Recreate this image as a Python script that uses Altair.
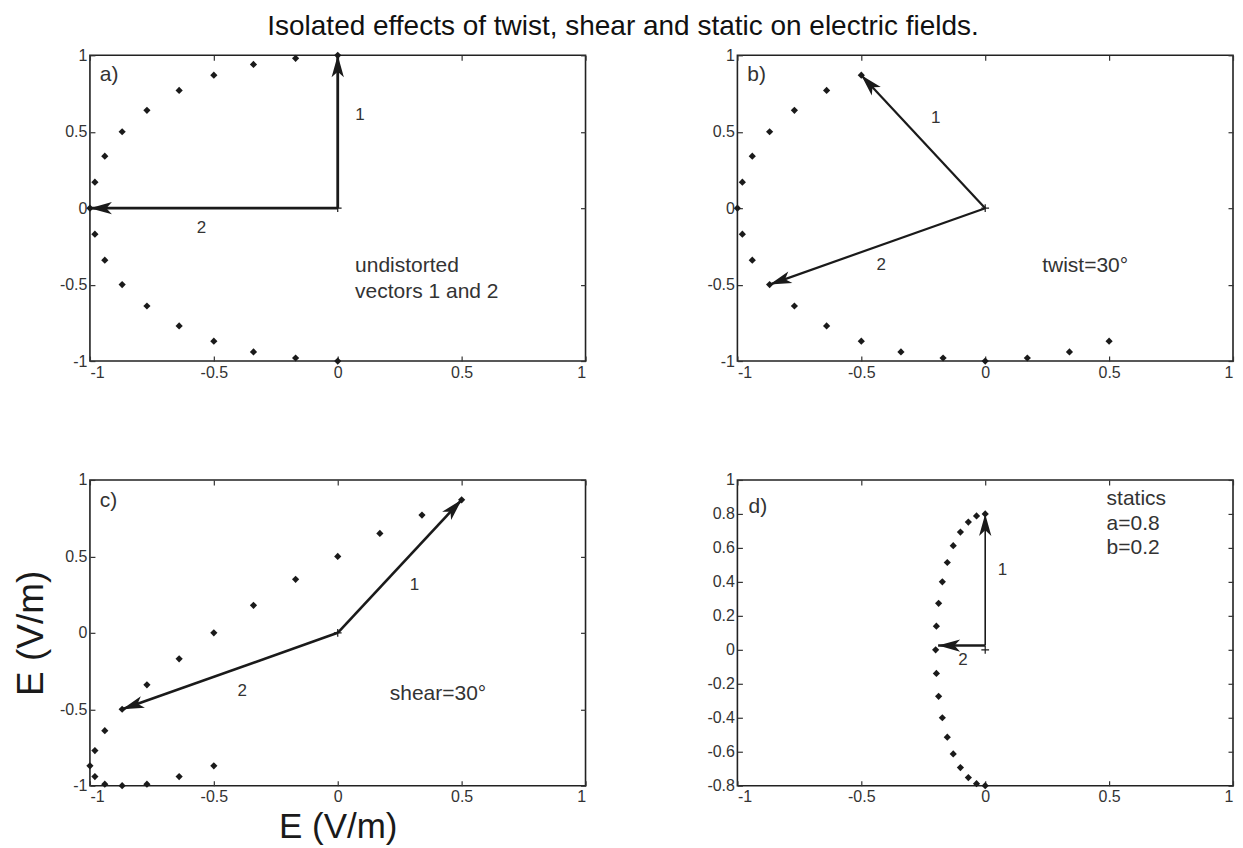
import math
import altair as alt
import pandas as pd

TITLE = "Isolated effects of twist, shear and static on electric fields."
AXIS_TITLE = "E (V/m)"

X_TICKS = [-1, -0.5, 0, 0.5, 1]
Y_TICKS = [-1, -0.5, 0, 0.5, 1]
Y_TICKS_D = [-0.8, -0.6, -0.4, -0.2, 0, 0.2, 0.4, 0.6, 0.8, 1]

# ---- a) undistorted ----
A_PX = [0, -0.17, -0.34, -0.5, -0.64, -0.77, -0.87, -0.94, -0.98, -1.0,
        -0.98, -0.94, -0.87, -0.77, -0.64, -0.5, -0.34, -0.17, 0]
A_PY = [1.0, 0.98, 0.94, 0.87, 0.77, 0.64, 0.5, 0.34, 0.17, 0,
        -0.17, -0.34, -0.5, -0.64, -0.77, -0.87, -0.94, -0.98, -1.0]
A_VX0 = [0, 0]
A_VY0 = [0, 0]
A_VX1 = [0, -1.0]
A_VY1 = [1.0, 0]
A_NUM = ["1", "2"]
A_NUM_X = [0.09, -0.55]
A_NUM_Y = [0.61, -0.13]
A_NOTE = ["a)", "undistorted", "vectors 1 and 2"]
A_NOTE_X = [-0.96, 0.07, 0.07]
A_NOTE_Y = [0.87, -0.38, -0.55]

# ---- b) twist ----
B_PX = [-0.5, -0.64, -0.77, -0.87, -0.94, -0.98, -1.0, -0.98, -0.94, -0.87,
        -0.77, -0.64, -0.5, -0.34, -0.17, 0, 0.17, 0.34, 0.5]
B_PY = [0.87, 0.77, 0.64, 0.5, 0.34, 0.17, 0, -0.17, -0.34, -0.5,
        -0.64, -0.77, -0.87, -0.94, -0.98, -1.0, -0.98, -0.94, -0.87]
B_VX0 = [0, 0]
B_VY0 = [0, 0]
B_VX1 = [-0.5, -0.87]
B_VY1 = [0.87, -0.5]
B_NUM = ["1", "2"]
B_NUM_X = [-0.2, -0.42]
B_NUM_Y = [0.59, -0.37]
B_NOTE = ["b)", "twist=30°"]
B_NOTE_X = [-0.96, 0.23]
B_NOTE_Y = [0.87, -0.38]

# ---- c) shear ----
C_PX = [0.5, 0.34, 0.17, 0, -0.17, -0.34, -0.5, -0.64, -0.77, -0.87,
        -0.94, -0.98, -1.0, -0.98, -0.94, -0.87, -0.77, -0.64, -0.5]
C_PY = [0.87, 0.77, 0.65, 0.5, 0.35, 0.18, 0, -0.17, -0.34, -0.5,
        -0.64, -0.77, -0.87, -0.94, -0.99, -1.0, -0.99, -0.94, -0.87]
C_VX0 = [0, 0]
C_VY0 = [0, 0]
C_VX1 = [0.5, -0.87]
C_VY1 = [0.87, -0.5]
C_NUM = ["1", "2"]
C_NUM_X = [0.31, -0.385]
C_NUM_Y = [0.31, -0.38]
C_NOTE = ["c)", "shear=30°"]
C_NOTE_X = [-0.96, 0.21]
C_NOTE_Y = [0.86, -0.40]

# ---- d) statics ----
D_PX = [0, -0.035, -0.068, -0.1, -0.129, -0.153, -0.173, -0.188, -0.197, -0.2,
        -0.197, -0.188, -0.173, -0.153, -0.129, -0.1, -0.068, -0.035, 0]
D_PY = [0.8, 0.788, 0.752, 0.693, 0.613, 0.514, 0.4, 0.274, 0.139, 0,
        -0.139, -0.274, -0.4, -0.514, -0.613, -0.693, -0.752, -0.788, -0.8]
D_VX0 = [0, 0]
D_VY0 = [0.025, 0.025]
D_VX1 = [0, -0.19]
D_VY1 = [0.8, 0.025]
D_NUM = ["1", "2"]
D_NUM_X = [0.07, -0.09]
D_NUM_Y = [0.47, -0.06]
D_NOTE = ["d)", "statics", "a=0.8", "b=0.2"]
D_NOTE_X = [-0.955, 0.49, 0.49, 0.49]
D_NOTE_Y = [0.84, 0.89, 0.74, 0.60]

# ---- styling (not data) ----
PW, PH = 496, 306
TICK = 5
INK = "#1a1a1a"
TXT = "#333333"
ARROW = "M0,0L0.42,1.5L0,1.12L-0.42,1.5Z"
CROSS = "M-1,0L1,0M0,-1L0,1"
LBL = "toString(datum.value)"
LABEL_FS = 16
VEC_W = {"a": [2.8, 2.8], "b": [2.2, 2.2], "c": [2.6, 2.6], "d": [1.6, 2.6]}


def panel(key, px, py, vx0, vy0, vx1, vy1, num, num_x, num_y, note, note_x, note_y,
          ydom, yticks, titles):
    xs = alt.Scale(domain=[-1, 1], nice=False, zero=False)
    ys = alt.Scale(domain=ydom, nice=False, zero=False)
    ppx = PW / 2.0
    ppy = PH / float(ydom[1] - ydom[0])

    if titles:
        xt = dict(title=AXIS_TITLE, titleFontSize=35, titleFontWeight="normal",
                  titlePadding=5, titleColor=INK, titleFont="Liberation Sans")
        yt = dict(title=AXIS_TITLE, titleFontSize=37, titleFontWeight="normal",
                  titlePadding=9, titleColor=INK, titleFont="Liberation Sans")
    else:
        xt = dict(title=None)
        yt = dict(title=None)

    common = dict(offset=-TICK, tickSize=TICK, domain=False, grid=False,
                  tickColor="#333333", tickWidth=1.2)
    ax_b = alt.Axis(orient="bottom", values=X_TICKS, labelExpr=LBL, labelPadding=3,
                    labelFontSize=LABEL_FS, labelColor=TXT, labelFont="Liberation Sans",
                    **common, **xt)
    ax_l = alt.Axis(orient="left", values=yticks, labelExpr=LBL, labelPadding=3,
                    labelFontSize=LABEL_FS, labelColor=TXT, labelFont="Liberation Sans",
                    **common, **yt)
    ax_t = alt.Axis(orient="top", values=X_TICKS, labels=False, title=None, **common)
    ax_r = alt.Axis(orient="right", values=yticks, labels=False, title=None, **common)

    pts = pd.DataFrame({"x": px, "y": py})
    dots = alt.Chart(pts).mark_point(shape="diamond", filled=True, size=52,
                                     color=INK, opacity=1).encode(
        x=alt.X("x:Q", scale=xs, axis=ax_b),
        y=alt.Y("y:Q", scale=ys, axis=ax_l))
    frame = alt.Chart(pts).mark_point(opacity=0).encode(
        x=alt.X("x:Q", scale=xs, axis=ax_t),
        y=alt.Y("y:Q", scale=ys, axis=ax_r))

    ang = [math.degrees(math.atan2((b - a) * ppx, (d - c) * ppy)) % 360
           for a, b, c, d in zip(vx0, vx1, vy0, vy1)]
    vec = pd.DataFrame({"x0": vx0, "y0": vy0, "x1": vx1, "y1": vy1,
                        "w": VEC_W[key], "ang": ang})
    lines = alt.Chart(vec).mark_rule(color=INK).encode(
        x=alt.X("x0:Q", scale=xs, axis=None),
        y=alt.Y("y0:Q", scale=ys, axis=None),
        x2="x1:Q", y2="y1:Q",
        strokeWidth=alt.StrokeWidth("w:Q", scale=None, legend=None))
    heads = alt.Chart(vec).mark_point(shape=ARROW, filled=True, size=860,
                                      color=INK, opacity=1, strokeWidth=0).encode(
        x=alt.X("x1:Q", scale=xs, axis=None),
        y=alt.Y("y1:Q", scale=ys, axis=None),
        angle=alt.Angle("ang:Q", scale=None))

    org = alt.Chart(pd.DataFrame({"x": [0], "y": [0]})).mark_point(
        shape=CROSS, filled=False, size=60, color=INK, strokeWidth=1.2, opacity=1).encode(
        x=alt.X("x:Q", scale=xs, axis=None),
        y=alt.Y("y:Q", scale=ys, axis=None))

    nums = alt.Chart(pd.DataFrame({"x": num_x, "y": num_y, "t": num})).mark_text(
        fontSize=17, color=TXT, align="center", baseline="middle",
        font="Liberation Sans").encode(
        x=alt.X("x:Q", scale=xs, axis=None),
        y=alt.Y("y:Q", scale=ys, axis=None),
        text="t:N")
    notes = alt.Chart(pd.DataFrame({"x": note_x, "y": note_y, "t": note})).mark_text(
        fontSize=21, color=TXT, align="left", baseline="middle",
        font="Liberation Sans").encode(
        x=alt.X("x:Q", scale=xs, axis=None),
        y=alt.Y("y:Q", scale=ys, axis=None),
        text="t:N")

    return alt.layer(dots, frame, lines, heads, org, nums, notes).resolve_axis(
        x="independent", y="independent").properties(width=PW, height=PH)


pa = panel("a", A_PX, A_PY, A_VX0, A_VY0, A_VX1, A_VY1, A_NUM, A_NUM_X, A_NUM_Y,
           A_NOTE, A_NOTE_X, A_NOTE_Y, [-1, 1], Y_TICKS, False)
pb = panel("b", B_PX, B_PY, B_VX0, B_VY0, B_VX1, B_VY1, B_NUM, B_NUM_X, B_NUM_Y,
           B_NOTE, B_NOTE_X, B_NOTE_Y, [-1, 1], Y_TICKS, False)
pc = panel("c", C_PX, C_PY, C_VX0, C_VY0, C_VX1, C_VY1, C_NUM, C_NUM_X, C_NUM_Y,
           C_NOTE, C_NOTE_X, C_NOTE_Y, [-1, 1], Y_TICKS, True)
pd_ = panel("d", D_PX, D_PY, D_VX0, D_VY0, D_VX1, D_VY1, D_NUM, D_NUM_X, D_NUM_Y,
            D_NOTE, D_NOTE_X, D_NOTE_Y, [-0.8, 1], Y_TICKS_D, False)

chart = alt.concat(pa, pb, pc, pd_, columns=2,
                   spacing={"row": 90, "column": 118}).properties(
    title=alt.TitleParams(TITLE, fontSize=28, fontWeight="normal", anchor="middle",
                          offset=6, color="#111111", font="Liberation Sans"),
    padding={"left": 3, "top": 4, "right": 0, "bottom": 0},
).configure(font="Liberation Sans").configure_view(
    stroke="#222222", strokeWidth=1.6
)

chart.save("out.html", embed_options={"renderer": "svg", "actions": False})
